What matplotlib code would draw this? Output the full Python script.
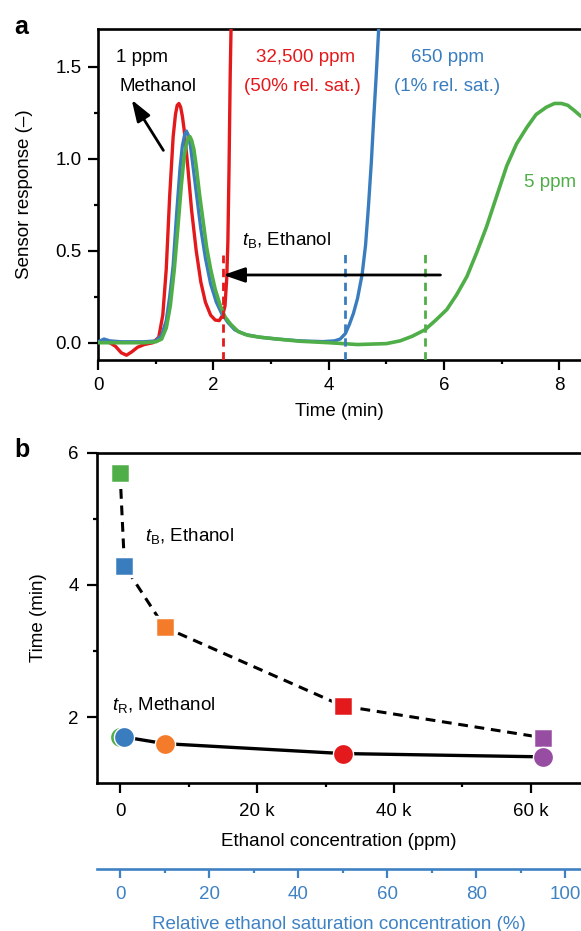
import matplotlib
matplotlib.use("Agg")
import matplotlib.pyplot as plt
from matplotlib.ticker import FixedLocator

plt.rcParams['font.family'] = ['Liberation Sans', 'DejaVu Sans']
plt.rcParams['mathtext.fontset'] = 'custom'
plt.rcParams['mathtext.rm'] = 'Liberation Sans'
plt.rcParams['mathtext.it'] = 'Liberation Sans:italic'
plt.rcParams['mathtext.bf'] = 'Liberation Sans:bold'

# ---------------- data: panel a (sensor response vs time) ----------------
t_red = [0.00, 0.10, 0.20, 0.30, 0.40, 0.49, 0.58, 0.68, 0.80, 0.95, 1.05, 1.12, 1.18, 1.24,
         1.30, 1.34, 1.37, 1.40, 1.43, 1.46, 1.49, 1.55, 1.62, 1.70, 1.78, 1.86, 1.95, 2.03,
         2.10, 2.16, 2.20, 2.23, 2.25, 2.27, 2.29, 2.31]
v_red = [0.005, 0.01, 0.0, -0.02, -0.055, -0.068, -0.05, -0.025, -0.01, 0.0, 0.03, 0.15, 0.40, 0.80,
         1.12, 1.24, 1.29, 1.30, 1.28, 1.23, 1.16, 0.97, 0.72, 0.50, 0.33, 0.22, 0.15, 0.123,
         0.12, 0.15, 0.20, 0.35, 0.55, 0.95, 1.45, 1.80]

t_blue = [0.00, 0.10, 0.20, 0.40, 0.80, 1.00, 1.10, 1.18, 1.24, 1.30, 1.36, 1.42, 1.46, 1.50,
          1.53, 1.56, 1.60, 1.64, 1.70, 1.78, 1.86, 1.95, 2.05, 2.14, 2.25, 2.37, 2.55, 2.80,
          3.10, 3.50, 3.90, 4.10, 4.20, 4.29, 4.36, 4.43, 4.50, 4.58, 4.64, 4.69, 4.74, 4.78,
          4.83, 4.87]
v_blue = [0.005, 0.02, 0.01, 0.005, 0.005, 0.01, 0.04, 0.12, 0.25, 0.42, 0.70, 0.95, 1.07, 1.13,
          1.15, 1.13, 1.07, 0.97, 0.82, 0.62, 0.46, 0.32, 0.22, 0.16, 0.11, 0.07, 0.045, 0.03,
          0.02, 0.01, 0.006, 0.01, 0.02, 0.05, 0.10, 0.16, 0.24, 0.37, 0.53, 0.74, 0.98, 1.21,
          1.48, 1.72]

t_green = [0.00, 0.20, 0.50, 0.80, 1.00, 1.10, 1.18, 1.25, 1.32, 1.38, 1.44, 1.49, 1.53, 1.56,
           1.59, 1.62, 1.66, 1.70, 1.76, 1.82, 1.88, 1.95, 2.03, 2.12, 2.20, 2.30, 2.43, 2.60,
           2.80, 3.10, 3.50, 4.00, 4.50, 5.00, 5.24, 5.45, 5.67, 5.85, 6.05, 6.22, 6.40, 6.57,
           6.74, 6.92, 7.09, 7.26, 7.44, 7.60, 7.78, 7.92, 8.04, 8.15, 8.27, 8.38]
v_green = [0.0, 0.0, 0.0, 0.0, 0.005, 0.02, 0.08, 0.20, 0.40, 0.62, 0.85, 1.01, 1.08, 1.11,
           1.12, 1.10, 1.05, 0.96, 0.80, 0.66, 0.52, 0.40, 0.29, 0.20, 0.14, 0.10, 0.06, 0.04,
           0.03, 0.02, 0.008, 0.0, -0.01, -0.005, 0.01, 0.035, 0.07, 0.12, 0.18, 0.26, 0.36, 0.49,
           0.63, 0.80, 0.96, 1.08, 1.17, 1.24, 1.28, 1.30, 1.30, 1.29, 1.26, 1.23]

tB_marks = [2.16, 4.28, 5.68]          # breakthrough times marked by dashed lines

# ---------------- data: panel b ----------------
conc_ppm = [5, 650, 6500, 32500, 61750]
tB_ethanol = [5.70, 4.29, 3.36, 2.17, 1.69]
tR_methanol = [1.70, 1.70, 1.60, 1.45, 1.40]

RED = '#e3191c'
BLUE = '#3a7dbf'
GREEN = '#4fae48'
ORANGE = '#f47b2a'
PURPLE = '#974ea2'
point_colors = [GREEN, BLUE, ORANGE, RED, PURPLE]
AXBLUE = '#3f82c4'

FS = 13.5
W, H = 581, 931
fig = plt.figure(figsize=(W / 100, H / 100), dpi=100)

def style_axes(ax, xpad, ypad):
    for s in ['left', 'bottom', 'top']:
        ax.spines[s].set_linewidth(1.9)
    ax.spines['right'].set_visible(False)
    ax.tick_params(which='major', direction='out', length=7, width=1.6, labelsize=FS)
    ax.tick_params(which='minor', direction='out', length=3.2, width=1.6)
    ax.tick_params(axis='x', which='major', pad=xpad)
    ax.tick_params(axis='y', which='major', pad=ypad)
    ax.tick_params(top=False, right=False, which='both')

# ---------- panel a ----------
axa = fig.add_axes([97.7 / W, 1 - 360 / H, 1 - 97.7 / W, (360 - 29.3) / H])
axa.plot(t_red, v_red, color=RED, lw=2.4, solid_capstyle='round', solid_joinstyle='round', zorder=3)
axa.plot(t_blue, v_blue, color=BLUE, lw=2.4, solid_capstyle='round', solid_joinstyle='round', zorder=4)
axa.plot(t_green, v_green, color=GREEN, lw=2.6, solid_capstyle='round', solid_joinstyle='round', zorder=5)
for tb, c, top in zip(tB_marks, [RED, BLUE, GREEN], [0.475, 0.485, 0.485]):
    axa.plot([tb, tb], [-0.094, top], color=c, lw=2.0, ls=(0, (3, 2)), zorder=6)
axa.set_xlim(-0.01, 8.38)
axa.set_ylim(-0.094, 1.703)
axa.set_xticks([0, 2, 4, 6, 8])
axa.xaxis.set_minor_locator(FixedLocator([1, 3, 5, 7]))
axa.set_yticks([0.0, 0.5, 1.0, 1.5])
axa.set_yticklabels(['0.0', '0.5', '1.0', '1.5'])
axa.yaxis.set_minor_locator(FixedLocator([0.25, 0.75, 1.25]))
style_axes(axa, xpad=5.5, ypad=4.5)
axa.set_xlabel('Time (min)', fontsize=FS)
axa.set_ylabel('Sensor response (–)', fontsize=FS)
axa.xaxis.set_label_coords(0.5, -0.130)
axa.yaxis.set_label_coords(-0.1345, 0.5)

axa.annotate('', xy=(2.17, 0.368), xytext=(5.94, 0.368),
             arrowprops=dict(arrowstyle='-|>,head_length=1.3,head_width=0.45', lw=2.0,
                             color='k', shrinkA=0, shrinkB=0), zorder=7)
axa.annotate('', xy=(0.58, 1.32), xytext=(1.13, 1.045),
             arrowprops=dict(arrowstyle='-|>,head_length=1.3,head_width=0.45', lw=2.0,
                             color='k', shrinkA=0, shrinkB=0), zorder=7)
axa.text(0.31, 1.55, '1 ppm', fontsize=FS, ha='left', va='center')
axa.text(0.36, 1.39, 'Methanol', fontsize=FS, ha='left', va='center')
axa.text(3.60, 1.55, '32,500 ppm', fontsize=FS, ha='center', va='center', color=RED)
axa.text(3.55, 1.39, '(50% rel. sat.)', fontsize=FS, ha='center', va='center', color=RED)
axa.text(6.07, 1.55, '650 ppm', fontsize=FS, ha='center', va='center', color=BLUE)
axa.text(6.05, 1.39, '(1% rel. sat.)', fontsize=FS, ha='center', va='center', color=BLUE)
axa.text(7.84, 0.87, '5 ppm', fontsize=FS, ha='center', va='center', color=GREEN)
axa.text(2.49, 0.56, r'$t_{\mathrm{B}}$, Ethanol', fontsize=FS, ha='left', va='center')

# ---------- panel b ----------
axb = fig.add_axes([97.4 / W, 1 - 783.3 / H, 1 - 97.4 / W, (783.3 - 452.7) / H])
axb.plot(conc_ppm, tB_ethanol, color='k', lw=2.2, ls=(0, (3.2, 2.2)), zorder=2)
axb.plot(conc_ppm, tR_methanol, color='k', lw=2.4, zorder=2)
for x, y, c in zip(conc_ppm, tB_ethanol, point_colors):
    axb.plot([x], [y], marker='s', ms=15.0, mfc=c, mec='white', mew=2.5, zorder=4)
for x, y, c in zip(conc_ppm, tR_methanol, point_colors):
    axb.plot([x], [y], marker='o', ms=14.5, mfc=c, mec='white', mew=1.0, zorder=4)
axb.set_xlim(-3300, 67300)
axb.set_ylim(1, 6)
axb.set_xticks([0, 20000, 40000, 60000])
axb.set_xticklabels(['0', '20 k', '40 k', '60 k'])
axb.xaxis.set_minor_locator(FixedLocator([10000, 30000, 50000]))
axb.set_yticks([2, 4, 6])
axb.yaxis.set_minor_locator(FixedLocator([3, 5]))
style_axes(axb, xpad=7, ypad=6.5)
axb.set_xlabel('Ethanol concentration (ppm)', fontsize=FS)
axb.set_ylabel('Time (min)', fontsize=FS)
axb.xaxis.set_label_coords(0.5, -0.150)
axb.yaxis.set_label_coords(-0.104, 0.5)
axb.text(3650, 4.74, r'$t_{\mathrm{B}}$, Ethanol', fontsize=FS, ha='left', va='center')
axb.text(-1200, 2.18, r'$t_{\mathrm{R}}$, Methanol', fontsize=FS, ha='left', va='center')

sec = axb.secondary_xaxis(-0.259, functions=(lambda p: p / 650.0, lambda r: r * 650.0))
sec.set_xticks([0, 20, 40, 60, 80, 100])
sec.set_xticks([10, 30, 50, 70, 90], minor=True)
sec.spines['bottom'].set_color(AXBLUE)
sec.spines['bottom'].set_linewidth(1.9)
sec.tick_params(which='major', direction='out', length=6.5, width=1.6, colors=AXBLUE,
                labelsize=FS, pad=6)
sec.tick_params(which='minor', direction='out', length=3.2, width=1.6, colors=AXBLUE)
sec.set_xlabel('Relative ethanol saturation concentration (%)', fontsize=FS, color=AXBLUE,
               labelpad=9)

fig.text(21 / W, 1 - 27 / H, 'a', fontsize=18, fontweight='bold', ha='center', va='center')
fig.text(22 / W, 1 - 450 / H, 'b', fontsize=18, fontweight='bold', ha='center', va='center')

fig.savefig('out.png', dpi=100)
